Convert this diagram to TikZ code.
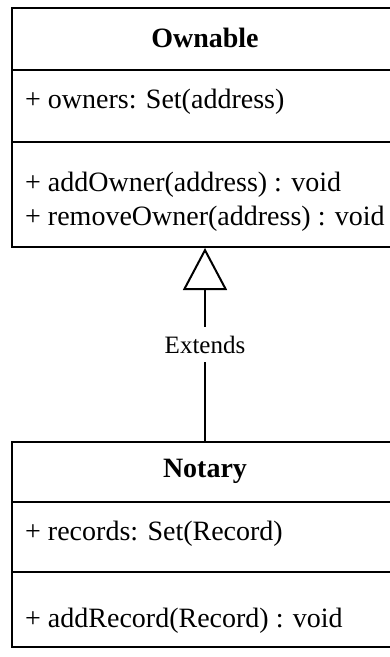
\documentclass[tikz,border=0pt]{standalone}
\usepackage{fontspec}
\setmainfont{Liberation Serif}
\usetikzlibrary{arrows.meta}
\begin{document}
\begin{tikzpicture}[x=1pt,y=-1pt,
  comp/.style={draw, line width=2pt, minimum width=386pt, inner sep=0pt},
  nametext/.style={font=\fontsize{28}{28}\selectfont\bfseries, inner sep=0pt, anchor=base},
  membertext/.style={font=\fontsize{28}{28}\selectfont, inner sep=0pt, anchor=base west},
  ext/.style={line width=2pt, -{Triangle[open, length=42pt, width=44pt, line width=2pt]}},
  lbl/.style={font=\fontsize{25}{25}\selectfont, fill=white, inner xsep=2pt, inner ysep=8.4pt}
]
\useasboundingbox (0,0) rectangle (390,657);
\clip (0,0) rectangle (390,657);
\fill[white] (0,0) rectangle (390,657);
% Ownable
\node[comp, minimum height=62pt] (oname) at (205,39) {};
\node[comp, minimum height=72pt] (oattr) at (205,106) {};
\node[comp, minimum height=105pt] (oops) at (205,194.5) {};
\node[nametext] (onameT) at (205,47) {Ownable};
\node[membertext] (oattrT) at (25,108) {+ owners: Set(address)};
\node[membertext] (oop1) at (25,191) {+ addOwner(address) : void};
\node[membertext] (oop2) at (25,225) {+ removeOwner(address) : void};
% Notary
\node[comp, minimum height=60pt] (nname) at (205,472) {};
\node[comp, minimum height=70pt] (nattr) at (205,537) {};
\node[comp, minimum height=75pt] (nops) at (205,609.5) {};
\node[nametext] (nnameT) at (205,477) {Notary};
\node[membertext] (nattrT) at (25,540) {+ records: Set(Record)};
\node[membertext] (nop1) at (25,627) {+ addRecord(Record) : void};
% generalization
\draw[ext] (nname.north) -- node[lbl] (extl) {Extends} (oops.south);
\end{tikzpicture}
\end{document}
